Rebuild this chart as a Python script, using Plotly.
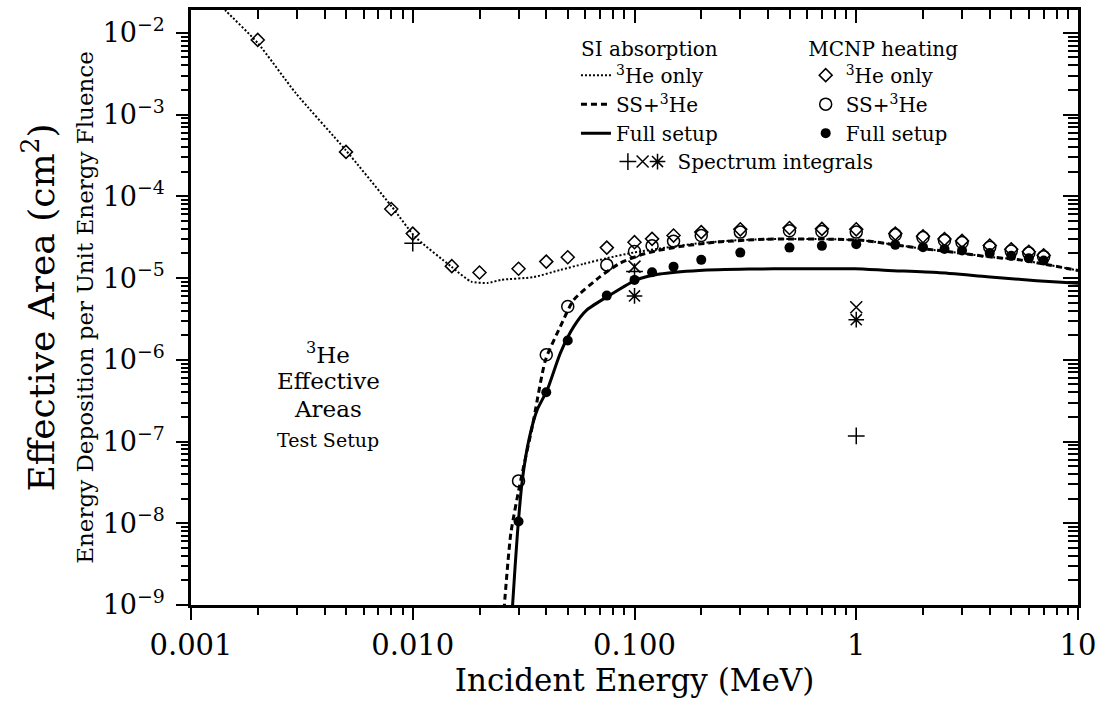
import plotly.graph_objects as go

# ---------------- data ----------------
# SI absorption curves
si_he_x = [0.0013, 0.001445, 0.002, 0.00297, 0.00497, 0.00804, 0.01023, 0.01493, 0.01834, 0.0218,
           0.025, 0.0352, 0.0463, 0.0589, 0.075, 0.0987, 0.139, 0.196, 0.277, 0.39, 0.775, 1.09,
           1.49, 2.09, 2.96, 3.89, 5.48, 6.97, 10]
si_he_y = [2.44e-2, 1.83e-2, 7.5e-3, 1.83e-3, 3.71e-4, 7.5e-5, 3.22e-5, 1.38e-5, 9.06e-6, 8.73e-6,
           9.5e-6, 1.03e-5, 1.26e-5, 1.49e-5, 1.75e-5, 2.05e-5, 2.36e-5, 2.67e-5, 2.88e-5, 2.99e-5,
           2.99e-5, 2.88e-5, 2.55e-5, 2.26e-5, 2.02e-5, 1.83e-5, 1.67e-5, 1.49e-5, 1.24e-5]

si_ss_x = [0.0255, 0.0259, 0.02769, 0.0307, 0.0346, 0.0397, 0.0463, 0.0532, 0.07, 0.086, 0.113,
           0.16, 0.233, 0.39, 0.775, 1.09, 1.49, 2.09, 2.96, 3.89, 5.48, 6.97, 10]
si_ss_y = [5e-10, 1e-9, 7.55e-9, 3.39e-8, 1.52e-7, 9.97e-7, 2.55e-6, 5.41e-6, 1.04e-5, 1.52e-5,
           2.02e-5, 2.43e-5, 2.75e-5, 2.99e-5, 2.99e-5, 2.88e-5, 2.55e-5, 2.26e-5, 2.02e-5,
           1.83e-5, 1.67e-5, 1.49e-5, 1.24e-5]

si_full_x = [0.0278, 0.0282, 0.02966, 0.0312, 0.0334, 0.0364, 0.0404, 0.0463, 0.0532, 0.061,
             0.0777, 0.102, 0.13, 0.196, 0.328, 0.549, 0.985, 1.39, 2.32, 3.89, 6.5, 10]
si_full_y = [5e-10, 1e-9, 7.55e-9, 3.39e-8, 1.05e-7, 2.44e-7, 4.28e-7, 1.21e-6, 2.55e-6, 4.08e-6,
             6.22e-6, 9.5e-6, 1.12e-5, 1.24e-5, 1.29e-5, 1.30e-5, 1.30e-5, 1.24e-5, 1.17e-5,
             1.04e-5, 9.3e-6, 8.65e-6]

# MCNP heating points
mc_he_x = [0.002, 0.005, 0.008, 0.01, 0.015, 0.02, 0.03, 0.04, 0.05, 0.075, 0.1, 0.12, 0.15,
           0.2, 0.3, 0.5, 0.7, 1.0, 1.5, 2, 2.5, 3, 4, 5, 6, 7]
mc_he_y = [8.2e-3, 3.5e-4, 7.0e-5, 3.5e-5, 1.4e-5, 1.17e-5, 1.3e-5, 1.59e-5, 1.8e-5, 2.36e-5,
           2.75e-5, 3.02e-5, 3.31e-5, 3.65e-5, 3.95e-5, 4.1e-5, 4.0e-5, 3.95e-5, 3.5e-5, 3.25e-5,
           3.0e-5, 2.85e-5, 2.5e-5, 2.25e-5, 2.1e-5, 1.9e-5]

mc_x = [0.03, 0.04, 0.05, 0.075, 0.1, 0.12, 0.15, 0.2, 0.3, 0.5, 0.7, 1.0, 1.5, 2, 2.5, 3, 4, 5, 6, 7]
mc_ss_y = [3.3e-8, 1.15e-6, 4.48e-6, 1.45e-5, 2.11e-5, 2.48e-5, 2.83e-5, 3.31e-5, 3.65e-5, 3.79e-5,
           3.72e-5, 3.65e-5, 3.38e-5, 3.13e-5, 2.88e-5, 2.72e-5, 2.39e-5, 2.15e-5, 2.02e-5, 1.83e-5]
mc_full_y = [1.05e-8, 4.0e-7, 1.72e-6, 6.1e-6, 9.5e-6, 1.18e-5, 1.38e-5, 1.67e-5, 2.05e-5, 2.36e-5,
             2.48e-5, 2.60e-5, 2.55e-5, 2.39e-5, 2.27e-5, 2.17e-5, 2.02e-5, 1.87e-5, 1.75e-5, 1.64e-5]

# Spectrum integrals
spec_he_x = [0.01, 0.1, 1.0]
spec_he_y = [2.67e-5, 1.2e-5, 1.17e-7]
spec_ss_x = [0.1, 1.0]
spec_ss_y = [1.38e-5, 4.4e-6]
spec_full_x = [0.1, 1.0]
spec_full_y = [6.05e-6, 3.1e-6]

# ticks
x_tickvals = [0.001, 0.01, 0.1, 1, 10]
x_ticktext = ["0.001", "0.010", "0.100", "1", "10"]
y_exps = [-9, -8, -7, -6, -5, -4, -3, -2]
y_tickvals = [10.0 ** e for e in y_exps]
y_ticktext = ["10<sup>\u2212%d</sup>" % (-e) for e in y_exps]
x_minor = [m * 10.0 ** e for e in range(-3, 1) for m in range(2, 10)]
y_minor = [m * 10.0 ** e for e in range(-9, -1) for m in range(2, 10)]

FONT = "DejaVu Serif"
BLACK = "black"
LEG = 20

fig = go.Figure()

# SI absorption lines (legend 1)
fig.add_trace(go.Scatter(x=si_he_x, y=si_he_y, mode="lines", name="<sup>3</sup>He only",
                         line=dict(color=BLACK, width=2, dash="2px,2px", shape="spline", smoothing=0.6),
                         legend="legend"))
fig.add_trace(go.Scatter(x=si_ss_x, y=si_ss_y, mode="lines", name="SS+<sup>3</sup>He",
                         line=dict(color=BLACK, width=3, dash="6px,4px", shape="spline", smoothing=0.6),
                         legend="legend"))
fig.add_trace(go.Scatter(x=si_full_x, y=si_full_y, mode="lines", name="Full setup",
                         line=dict(color=BLACK, width=3, shape="spline", smoothing=0.6),
                         legend="legend"))

# MCNP heating points (legend 2)
fig.add_trace(go.Scatter(x=mc_he_x, y=mc_he_y, mode="markers", name="<sup>3</sup>He only",
                         marker=dict(symbol="diamond-open", size=10, color=BLACK, line=dict(width=1.5)),
                         legend="legend2"))
fig.add_trace(go.Scatter(x=mc_x, y=mc_ss_y, mode="markers", name="SS+<sup>3</sup>He",
                         marker=dict(symbol="circle-open", size=12, color=BLACK, line=dict(width=1.5)),
                         legend="legend2"))
fig.add_trace(go.Scatter(x=mc_x, y=mc_full_y, mode="markers", name="Full setup",
                         marker=dict(symbol="circle", size=10, color=BLACK),
                         legend="legend2"))

# Spectrum integrals (legends 3-5 positioned side by side)
fig.add_trace(go.Scatter(x=spec_he_x, y=spec_he_y, mode="markers", name="",
                         marker=dict(symbol="cross-thin-open", size=12, color=BLACK, line=dict(width=1.5, color=BLACK)),
                         legend="legend3"))
fig.add_trace(go.Scatter(x=spec_ss_x, y=spec_ss_y, mode="markers", name="",
                         marker=dict(symbol="x-thin-open", size=12, color=BLACK, line=dict(width=1.5, color=BLACK)),
                         legend="legend4"))
fig.add_trace(go.Scatter(x=spec_full_x, y=spec_full_y, mode="markers", name="Spectrum integrals",
                         marker=dict(symbol="asterisk-open", size=13, color=BLACK, line=dict(width=1.5, color=BLACK)),
                         legend="legend5"))

# empty trace to materialise the mirrored (top/right) axes
fig.add_trace(go.Scatter(x=[], y=[], xaxis="x2", yaxis="y2", showlegend=False, hoverinfo="skip"))

axis_common = dict(type="log", showgrid=False, zeroline=False, showline=True,
                   linecolor=BLACK, linewidth=2.5, tickcolor=BLACK)

leg_common = dict(xanchor="left", yanchor="top", bgcolor="rgba(0,0,0,0)",
                  font=dict(size=LEG, family=FONT), itemwidth=30)

ann_common = dict(xref="paper", yref="paper", x=0.155, xanchor="center", yanchor="middle",
                  showarrow=False)

fig.update_layout(
    width=1106, height=711,
    margin=dict(l=191, r=21, t=10, b=106),
    paper_bgcolor="white", plot_bgcolor="white",
    font=dict(family=FONT, color=BLACK),
    showlegend=True,
    xaxis=dict(**axis_common, range=[-3, 1], ticks="outside", ticklen=12, tickwidth=1.8,
               tickmode="array", tickvals=x_tickvals, ticktext=x_ticktext,
               tickfont=dict(size=29, family=FONT),
               minor=dict(tickmode="array", tickvals=x_minor, ticks="outside", ticklen=7,
                          tickwidth=1.5, tickcolor=BLACK),
               title=dict(text="Incident Energy (MeV)", font=dict(size=31, family=FONT), standoff=6)),
    xaxis2=dict(**axis_common, range=[-3, 1], overlaying="x", side="top", anchor="y",
                ticks="inside", ticklen=13, tickwidth=1.8, showticklabels=False,
                tickmode="array", tickvals=x_tickvals,
                minor=dict(tickmode="array", tickvals=x_minor, ticks="inside", ticklen=9,
                           tickwidth=1.5, tickcolor=BLACK)),
    yaxis=dict(**axis_common, range=[-9, -1.72], ticks="outside", ticklen=12, tickwidth=1.8,
               tickmode="array", tickvals=y_tickvals, ticktext=y_ticktext,
               tickfont=dict(size=27, family=FONT), ticklabelstandoff=6,
               minor=dict(tickmode="array", tickvals=y_minor, ticks="outside", ticklen=7,
                          tickwidth=1.5, tickcolor=BLACK),
               title=dict(text="<span style='font-size:36px'>Effective Area (cm<sup>2</sup>)</span><br>"
                               "<span style='font-size:23px'>Energy Deposition per Unit Energy Fluence</span>",
                          font=dict(size=30, family=FONT), standoff=1)),
    yaxis2=dict(**axis_common, range=[-9, -1.72], overlaying="y", side="right", anchor="x",
                ticks="inside", ticklen=15, tickwidth=1.8, showticklabels=False,
                tickmode="array", tickvals=y_tickvals,
                minor=dict(tickmode="array", tickvals=y_minor, ticks="inside", ticklen=10,
                           tickwidth=1.5, tickcolor=BLACK)),
    legend=dict(**leg_common, x=0.434, y=0.967,
                title=dict(text="SI absorption", side="top center", font=dict(size=LEG, family=FONT))),
    legend2=dict(**leg_common, x=0.693, y=0.967,
                 title=dict(text="MCNP heating", side="top center", font=dict(size=LEG, family=FONT))),
    legend3=dict(**leg_common, x=0.470, y=0.778),
    legend4=dict(**leg_common, x=0.4866, y=0.778),
    legend5=dict(**leg_common, x=0.5034, y=0.778),
    annotations=[
        dict(**ann_common, text="<sup>3</sup>He", y=0.424, font=dict(size=23, family=FONT)),
        dict(**ann_common, text="Effective", y=0.376, font=dict(size=23, family=FONT)),
        dict(**ann_common, text="Areas", y=0.329, font=dict(size=23, family=FONT)),
        dict(**ann_common, text="Test Setup", y=0.277, font=dict(size=19, family=FONT)),
    ],
)

fig.write_html("out.html", config={"displayModeBar": False},
               post_script="document.body.style.margin='0px';")
